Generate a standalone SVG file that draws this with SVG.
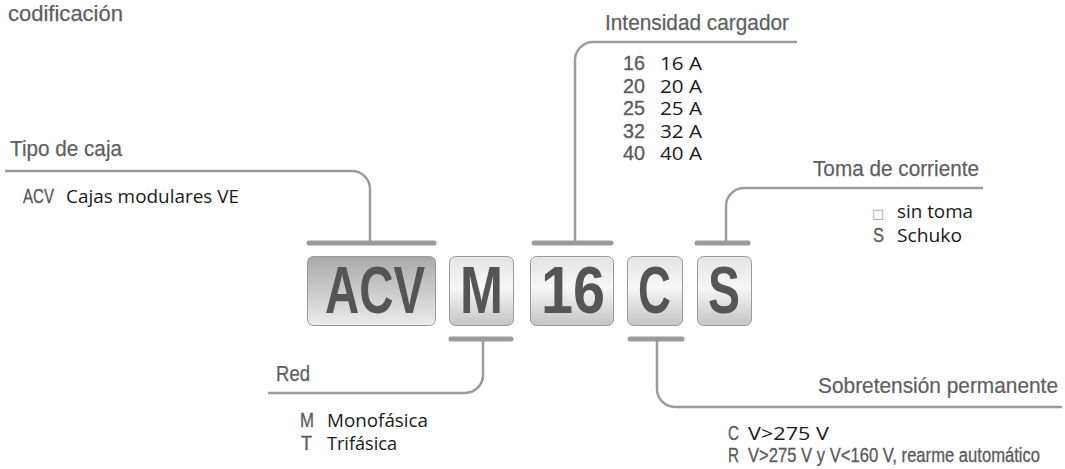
<svg xmlns="http://www.w3.org/2000/svg" width="1065" height="469" viewBox="0 0 1065 469">
<defs>
<linearGradient id="gBig" x1="0" y1="0" x2="0" y2="1">
<stop offset="0" stop-color="#a9a9a9"/>
<stop offset="1" stop-color="#ececec"/>
</linearGradient>
<linearGradient id="gSmall" x1="0" y1="0" x2="0" y2="1">
<stop offset="0" stop-color="#e4e4e4"/>
<stop offset="0.45" stop-color="#f7f7f7"/>
<stop offset="1" stop-color="#c4c4c4"/>
</linearGradient>
<style>
.hd{font-family:"Liberation Sans",Arial,sans-serif;font-size:22.5px;fill:#5f5f5f;stroke:#5f5f5f;stroke-width:0.25}
.cd{font-family:"Liberation Sans",Arial,sans-serif;font-size:19.5px;fill:#5a5a5a;stroke:#5a5a5a;stroke-width:0.3}
.bd{font-family:"Open Sans","Noto Sans",sans-serif;font-size:18px;fill:#1a1a1a}
.big{font-family:"Liberation Sans",Arial,sans-serif;font-size:67px;font-weight:bold;fill:#555555;text-anchor:middle}
.box{stroke:#9a9a9a;stroke-width:1}
.ln{fill:none;stroke:#9b9b9b;stroke-width:2.5}
.bar{fill:none;stroke:#9b9b9b;stroke-width:5;stroke-linecap:round}
.sq{font-family:"DejaVu Sans",sans-serif;font-size:13px;fill:#9a9a9a}
</style>
</defs>
<rect width="1065" height="469" fill="#ffffff"/>
<text class="hd" x="8" y="21" font-size="27" textLength="115" lengthAdjust="spacingAndGlyphs">codificación</text>

<g id="connectors">
<path class="ln" d="M5 171 H352 A18 18 0 0 1 370 189 V243"/>
<path class="ln" d="M797 42 H593 A18 18 0 0 0 575 60 V243"/>
<path class="ln" d="M983 188 H744 A18 18 0 0 0 726 206 V243"/>
<path class="ln" d="M483 339 V375 A18 18 0 0 1 465 393 H268"/>
<path class="ln" d="M657 339 V389 A18 18 0 0 0 675 407 H1062"/>
<path class="bar" d="M309 243 H434"/>
<path class="bar" d="M534 243 H611"/>
<path class="bar" d="M697 243 H748"/>
<path class="bar" d="M451 339 H511"/>
<path class="bar" d="M630 339 H682"/>
</g>

<g id="box-acv">
<rect class="box" x="307.5" y="256.5" width="128" height="69" rx="6" fill="url(#gBig)"/>
<text class="big" transform="translate(375 313) scale(0.707 1)" x="0" y="0">ACV</text>
</g>
<g id="box-m">
<rect class="box" x="449.5" y="256.5" width="64" height="69" rx="6" fill="url(#gSmall)"/>
<text class="big" transform="translate(481.5 313) scale(0.77 1)" x="0" y="0">M</text>
</g>
<g id="box-16">
<rect class="box" x="530.5" y="256.5" width="83" height="69" rx="6" fill="url(#gSmall)"/>
<text class="big" transform="translate(573 313) scale(0.86 1)" x="0" y="0">16</text>
</g>
<g id="box-c">
<rect class="box" x="627.5" y="256.5" width="55" height="69" rx="6" fill="url(#gSmall)"/>
<text class="big" transform="translate(654.5 313) scale(0.68 1)" x="0" y="0">C</text>
</g>
<g id="box-s">
<rect class="box" x="697.5" y="256.5" width="54" height="69" rx="6" fill="url(#gSmall)"/>
<text class="big" transform="translate(724 313) scale(0.716 1)" x="0" y="0">S</text>
</g>

<g id="tipo-de-caja">
<text class="hd" x="10" y="156" textLength="112" lengthAdjust="spacingAndGlyphs">Tipo de caja</text>
<text class="cd" x="23" y="203" textLength="31" lengthAdjust="spacingAndGlyphs">ACV</text>
<text class="bd" x="66" y="203" textLength="173" lengthAdjust="spacingAndGlyphs">Cajas modulares VE</text>
</g>

<g id="intensidad-cargador">
<text class="hd" x="605" y="30" textLength="184" lengthAdjust="spacingAndGlyphs">Intensidad cargador</text>
<text class="cd" x="623" y="70" textLength="22" lengthAdjust="spacingAndGlyphs">16</text>
<text class="bd" x="660" y="70" textLength="42" lengthAdjust="spacingAndGlyphs">16 A</text>
<text class="cd" x="623" y="92.5" textLength="22" lengthAdjust="spacingAndGlyphs">20</text>
<text class="bd" x="660" y="92.5" textLength="42" lengthAdjust="spacingAndGlyphs">20 A</text>
<text class="cd" x="623" y="115" textLength="22" lengthAdjust="spacingAndGlyphs">25</text>
<text class="bd" x="660" y="115" textLength="42" lengthAdjust="spacingAndGlyphs">25 A</text>
<text class="cd" x="623" y="137.5" textLength="22" lengthAdjust="spacingAndGlyphs">32</text>
<text class="bd" x="660" y="137.5" textLength="42" lengthAdjust="spacingAndGlyphs">32 A</text>
<text class="cd" x="623" y="160" textLength="22" lengthAdjust="spacingAndGlyphs">40</text>
<text class="bd" x="660" y="160" textLength="42" lengthAdjust="spacingAndGlyphs">40 A</text>
</g>

<g id="toma-de-corriente">
<text class="hd" x="813" y="176" textLength="166" lengthAdjust="spacingAndGlyphs">Toma de corriente</text>
<text class="sq" x="872" y="218">□</text>
<text class="bd" x="897" y="218" textLength="76" lengthAdjust="spacingAndGlyphs">sin toma</text>
<text class="cd" x="873" y="242" textLength="11" lengthAdjust="spacingAndGlyphs">S</text>
<text class="bd" x="897" y="242" textLength="65" lengthAdjust="spacingAndGlyphs">Schuko</text>
</g>

<g id="red">
<text class="hd" x="276" y="381" textLength="34" lengthAdjust="spacingAndGlyphs">Red</text>
<text class="cd" x="300" y="427" textLength="14" lengthAdjust="spacingAndGlyphs">M</text>
<text class="bd" x="327" y="427" textLength="101" lengthAdjust="spacingAndGlyphs">Monofásica</text>
<text class="cd" x="301" y="450" textLength="11" lengthAdjust="spacingAndGlyphs">T</text>
<text class="bd" x="327" y="450" textLength="70" lengthAdjust="spacingAndGlyphs">Trifásica</text>
</g>

<g id="sobretension-permanente">
<text class="hd" transform="translate(1058 393) scale(0.927 1)" x="0" y="0" text-anchor="end">Sobretensión permanente</text>
<text class="cd" x="728" y="440" textLength="11" lengthAdjust="spacingAndGlyphs">C</text>
<text class="bd" x="748" y="440" textLength="81" lengthAdjust="spacingAndGlyphs">V&gt;275 V</text>
<text class="cd" x="728" y="462" textLength="11" lengthAdjust="spacingAndGlyphs">R</text>
<text class="cd" transform="translate(748 462) scale(0.852 1)" x="0" y="0" stroke-width="0">V&gt;275 V y V&lt;160 V, rearme automático</text>
</g>
</svg>
